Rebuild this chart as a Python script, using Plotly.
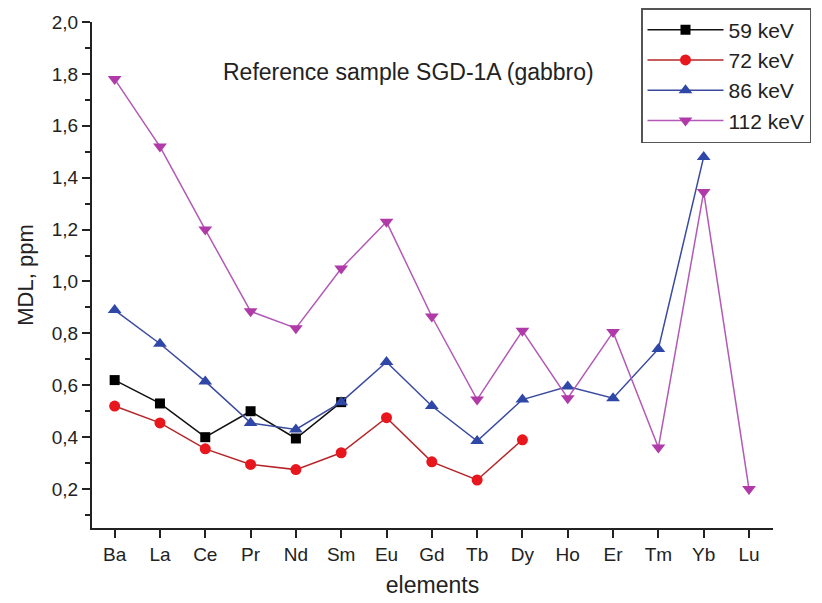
import plotly.graph_objects as go

elements = ["Ba", "La", "Ce", "Pr", "Nd", "Sm", "Eu", "Gd", "Tb", "Dy", "Ho", "Er", "Tm", "Yb", "Lu"]
kev59 = [0.62, 0.53, 0.40, 0.50, 0.395, 0.535]
kev72 = [0.52, 0.455, 0.355, 0.295, 0.275, 0.34, 0.475, 0.305, 0.235, 0.39]
kev86 = [0.89, 0.76, 0.615, 0.455, 0.43, 0.535, 0.69, 0.52, 0.385, 0.545, 0.595, 0.55, 0.74, 1.48]
kev112 = [1.78, 1.52, 1.20, 0.885, 0.82, 1.05, 1.23, 0.865, 0.545, 0.81, 0.55, 0.805, 0.36, 1.345, 0.20]
yticks = [0.2, 0.4, 0.6, 0.8, 1.0, 1.2, 1.4, 1.6, 1.8, 2.0]

FONT = "Liberation Sans, Arial, sans-serif"
# page body has an 8px margin, so the figure is sized to fit the 822x603 window
W, H = 814, 595
L, R, T, B = 84, 49, 14, 75
PW, PH = W - L - R, H - T - B

fig = go.Figure()

def add(name, vals, line_color, marker_color, symbol, size):
    fig.add_trace(go.Scatter(
        x=list(range(len(vals))), y=vals, name=name, mode="lines+markers",
        line=dict(color=line_color, width=1.5),
        marker=dict(symbol=symbol, size=size, color=marker_color),
    ))

add("59 keV", kev59, "#111111", "#000000", "square", 10)
add("72 keV", kev72, "#b5262a", "#e8161d", "circle", 11)
add("86 keV", kev86, "#3a4a9e", "#2f48a8", "triangle-up", 12)
add("112 keV", kev112, "#b25ab5", "#b03aa8", "triangle-down", 12)

fig.add_annotation(text="Reference sample SGD-1A (gabbro)",
                   xref="paper", yref="paper",
                   x=(400 - L) / PW, y=(H - B - 64) / PH,
                   xanchor="center", yanchor="middle", showarrow=False,
                   font=dict(size=23, color="#222222", family=FONT))

fig.update_layout(
    width=W, height=H,
    margin=dict(l=L, r=R, t=T, b=B, autoexpand=False),
    paper_bgcolor="white", plot_bgcolor="white",
    separators=",.",
    font=dict(family=FONT, size=19, color="#222222"),
    showlegend=True,
    legend=dict(xref="container", yref="container",
                x=633 / W, y=1.0, xanchor="left", yanchor="top",
                bordercolor="#555555", borderwidth=1.5, bgcolor="white",
                font=dict(size=21, family=FONT, color="#222222"),
                itemwidth=76, tracegroupgap=0),
    xaxis=dict(
        range=[-0.5, 14.53], tickmode="array", tickvals=list(range(len(elements))),
        ticktext=elements, showline=True, linecolor="#222222", linewidth=2,
        ticks="outside", ticklen=8, tickwidth=2, tickcolor="#222222",
        showgrid=False, zeroline=False, automargin=False,
        title=dict(text="elements", font=dict(size=23, family=FONT), standoff=13),
        tickfont=dict(size=19),
    ),
    yaxis=dict(
        range=[0.05, 2.0], tickmode="array", tickvals=yticks, tickformat=".1f",
        showline=True, linecolor="#222222", linewidth=2,
        ticks="outside", ticklen=8, tickwidth=2, tickcolor="#222222",
        minor=dict(dtick=0.1, tick0=0.1, ticks="outside", ticklen=5, tickwidth=2, tickcolor="#222222"),
        showgrid=False, zeroline=False, automargin=False,
        title=dict(text="MDL, ppm", font=dict(size=22, family=FONT), standoff=12),
        tickfont=dict(size=19),
    ),
)

fig.write_html("out.html")
